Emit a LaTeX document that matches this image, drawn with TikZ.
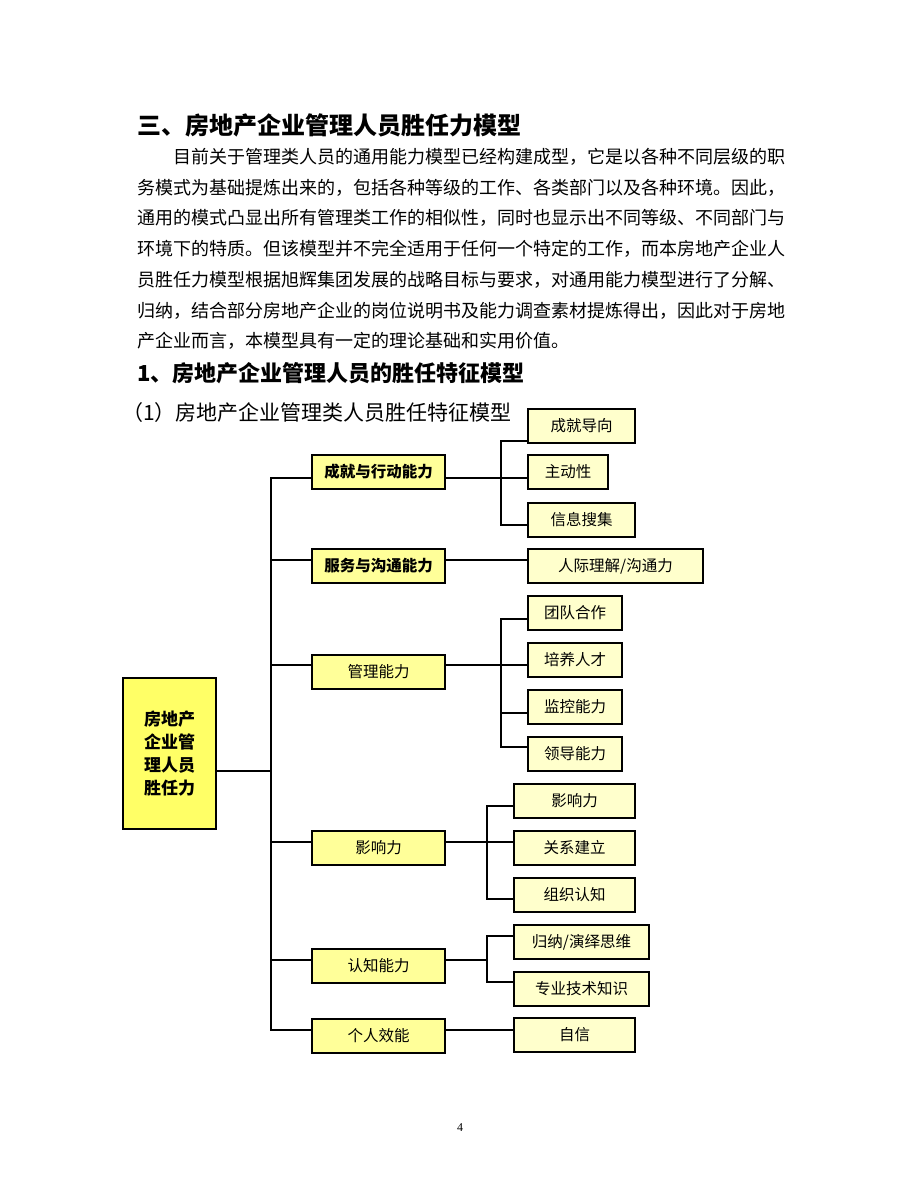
\documentclass[tikz,border=0pt]{standalone}
\usepackage{fontspec}
\setmainfont{Noto Sans CJK SC}
\newfontfamily\numfont{Liberation Serif}
\definecolor{rootyellow}{RGB}{255,255,102}
\definecolor{mainyellow}{RGB}{255,255,153}
\definecolor{subyellow}{RGB}{255,255,204}
\tikzset{
	rootbox/.style={draw,line width=2pt,fill=rootyellow,minimum width=93pt,minimum height=151pt,inner sep=0pt,align=center,font=\fontsize{17}{23.3}\selectfont\bfseries},
	mainbox/.style={draw,line width=2pt,fill=mainyellow,minimum width=133pt,minimum height=34pt,inner sep=0pt,font=\fontsize{15.5}{18}\selectfont},
	subbox/.style={draw,line width=2pt,fill=subyellow,minimum height=34pt,inner sep=0pt,font=\fontsize{15.5}{18}\selectfont},
	link/.style={line width=2pt},
	bodyline/.style={anchor=west,inner sep=0pt,font=\fontsize{18}{18}\selectfont},
}
\begin{document}
\begin{tikzpicture}[x=1pt,y=-1pt]
	\useasboundingbox (0,0) rectangle (920,1191);

	\node[anchor=west,inner sep=0pt,font=\fontsize{24}{24}\selectfont\bfseries] (title) at (137,125) {三、房地产企业管理人员胜任力模型};
	\node[bodyline] (line1) at (173,157) {目前关于管理类人员的通用能力模型已经构建成型，它是以各种不同层级的职};
	\node[bodyline] (line2) at (137,187.5) {务模式为基础提炼出来的，包括各种等级的工作、各类部门以及各种环境。因此，};
	\node[bodyline] (line3) at (137,218) {通用的模式凸显出所有管理类工作的相似性，同时也显示出不同等级、不同部门与};
	\node[bodyline] (line4) at (137,249) {环境下的特质。但该模型并不完全适用于任何一个特定的工作，而本房地产企业人};
	\node[bodyline] (line5) at (137,280) {员胜任力模型根据旭辉集团发展的战略目标与要求，对通用能力模型进行了分解、};
	\node[bodyline] (line6) at (137,310.5) {归纳，结合部分房地产企业的岗位说明书及能力调查素材提炼得出，因此对于房地};
	\node[bodyline] (line7) at (137,341) {产企业而言，本模型具有一定的理论基础和实用价值。};
	\node[anchor=west,inner sep=0pt,font=\fontsize{22}{22}\selectfont\bfseries] (head1) at (137,373) {1、房地产企业管理人员的胜任特征模型};
	\node[anchor=west,inner sep=0pt,font=\fontsize{21}{21}\selectfont] (head2) at (122,413) {（1）房地产企业管理类人员胜任特征模型};

	% root and first level
	\node[rootbox] (root) at (169.5,753.5) {房地产\\企业管\\理人员\\胜任力};
	\node[mainbox,font=\fontsize{15.5}{18}\selectfont\bfseries] (a1) at (378.5,472) {成就与行动能力};
	\node[mainbox,font=\fontsize{15.5}{18}\selectfont\bfseries] (a2) at (378.5,566) {服务与沟通能力};
	\node[mainbox] (a3) at (378.5,672) {管理能力};
	\node[mainbox] (a4) at (378.5,847.5) {影响力};
	\node[mainbox] (a5) at (378.5,965.5) {认知能力};
	\node[mainbox] (a6) at (378.5,1035.5) {个人效能};

	% second level
	\node[subbox,minimum width=107pt] (b11) at (581.5,425.5) {成就导向};
	\node[subbox,minimum width=80pt] (b12) at (568,472) {主动性};
	\node[subbox,minimum width=107pt] (b13) at (581.5,519.5) {信息搜集};
	\node[subbox,minimum width=175pt] (b21) at (615.5,566) {人际理解/沟通力};
	\node[subbox,minimum width=94pt] (b31) at (575,613) {团队合作};
	\node[subbox,minimum width=94pt] (b32) at (575,659.5) {培养人才};
	\node[subbox,minimum width=94pt] (b33) at (575,707) {监控能力};
	\node[subbox,minimum width=94pt] (b34) at (575,754) {领导能力};
	\node[subbox,minimum width=121pt] (b41) at (574.5,800.5) {影响力};
	\node[subbox,minimum width=121pt] (b42) at (574.5,848) {关系建立};
	\node[subbox,minimum width=121pt] (b43) at (574.5,894.5) {组织认知};
	\node[subbox,minimum width=135pt] (b51) at (581.5,942) {归纳/演绎思维};
	\node[subbox,minimum width=135pt] (b52) at (581.5,989) {专业技术知识};
	\node[subbox,minimum width=121pt] (b61) at (574.5,1035) {自信};

	\coordinate (trunk) at (271,0);
	\coordinate (fork1) at (501,0);
	\coordinate (fork2) at (487,0);

	% trunk
	\draw[link] ([yshift=-17.5pt]root.east) -- ([yshift=-17.5pt]root.east -| trunk);
	\draw[link] ([yshift=-6pt]a1.west) -- ([yshift=-6pt]a1.west -| trunk) |- ([yshift=5.5pt]a6.west);
	\draw[link] ([yshift=6pt]a2.west) -- ([yshift=6pt]a2.west -| trunk);
	\draw[link] ([yshift=7pt]a3.west) -- ([yshift=7pt]a3.west -| trunk);
	\draw[link] ([yshift=5.5pt]a4.west) -- ([yshift=5.5pt]a4.west -| trunk);
	\draw[link] ([yshift=5.5pt]a5.west) -- ([yshift=5.5pt]a5.west -| trunk);

	% branches
	\draw[link] ([yshift=-6pt]a1.east) -- ([yshift=-6pt]b12.west);
	\draw[link] ([yshift=-15.5pt]b11.west) -- ([yshift=-15.5pt]b11.west -| fork1) |- ([yshift=-5.5pt]b13.west);
	\draw[link] ([yshift=6pt]a2.east) -- ([yshift=6pt]b21.west);
	\draw[link] ([yshift=7pt]a3.east) -- ([yshift=-5.5pt]b32.west);
	\draw[link] ([yshift=-6pt]b31.west) -- ([yshift=-6pt]b31.west -| fork1) |- ([yshift=7pt]b34.west);
	\draw[link] ([yshift=-6pt]b33.west) -- ([yshift=-6pt]b33.west -| fork1);
	\draw[link] ([yshift=5.5pt]a4.east) -- ([yshift=6pt]b42.west);
	\draw[link] ([yshift=-5.5pt]b41.west) -- ([yshift=-5.5pt]b41.west -| fork2) |- ([yshift=-4.5pt]b43.west);
	\draw[link] ([yshift=5.5pt]a5.east) -- ([yshift=5.5pt]a5.east -| fork2);
	\draw[link] ([yshift=6pt]b51.west) -- ([yshift=6pt]b51.west -| fork2) |- ([yshift=7pt]b52.west);
	\draw[link] ([yshift=5.5pt]a6.east) -- ([yshift=5pt]b61.west);

	\node[font=\numfont\fontsize{12}{12}\selectfont] (pagenum) at (460,1128) {4};
\end{tikzpicture}
\end{document}
